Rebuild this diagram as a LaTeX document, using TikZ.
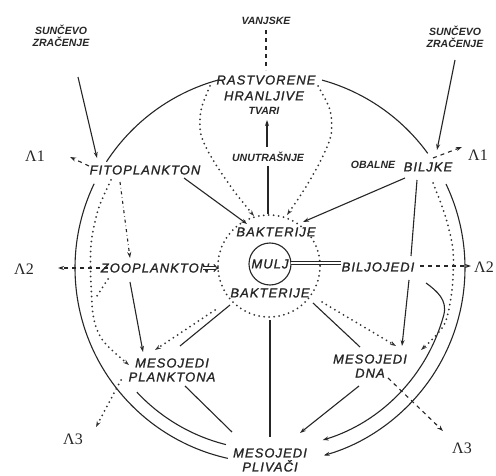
\documentclass[tikz,border=0pt]{standalone}
\usepackage{fontspec}
\setsansfont{Liberation Sans}
\newfontfamily\handfont[LetterSpace=8,FakeBold=1.2]{Liberation Sans}
\newfontfamily\lamfont{Liberation Serif}
\usetikzlibrary{arrows.meta,calc}
\begin{document}
\begin{tikzpicture}[x=1pt,y=-1pt,
  typed/.style={font=\sffamily\bfseries\itshape\fontsize{10.5}{12}\selectfont,inner sep=1pt,align=center,text=black!85},
  hand/.style={font=\handfont\itshape\fontsize{13}{14}\selectfont,inner sep=1pt,align=center,text=black!85},
  lam/.style={font=\lamfont\fontsize{16}{16}\selectfont,inner sep=1pt,text=black!85},
  ln/.style={line width=1.1pt,draw=black!85},
  tip/.style={-{Stealth[length=6pt,width=4pt]}},
  dotl/.style={line width=2pt,draw=black!80,dash pattern=on 0pt off 5pt,line cap=round},
  dsh/.style={ln,dash pattern=on 4pt off 4pt},
  dshdot/.style={ln,dash pattern=on 3pt off 3pt on 0.5pt off 3pt}
]
\useasboundingbox (0,0) rectangle (496,476);
\fill[white] (0,0) rectangle (496,476);

% ---------- labels ----------
\node[typed] (sunL) at (61,36) {SUNČEVO\\ZRAČENJE};
\node[typed] (sunR) at (455,37) {SUNČEVO\\ZRAČENJE};
\node[typed] (vanj) at (266,21) {VANJSKE};
\node[hand] (rast) at (266,80) {RASTVORENE};
\node[hand] (hran) at (264,96) {HRANLJIVE};
\node[typed] (tvari) at (264,111) {TVARI};
\node[typed] (unut) at (268,157) {UNUTRAŠNJE};
\node[hand] (fito) at (145,170) {FITOPLANKTON};
\node[typed] (obal) at (373,165) {OBALNE};
\node[hand] (bilj) at (428,167) {BILJKE};
\node[lam] (l1a) at (35,156) {Λ1};
\node[lam] (l1b) at (478,155) {Λ1};
\node[hand] (baku) at (276,232) {BAKTERIJE};
\node[hand,draw=black!85,circle,line width=1.1pt,minimum size=42pt,inner sep=0pt] (mulj) at (270,264) {MULJ};
\node[hand] (bakd) at (270,293) {BAKTERIJE};
\node[hand] (zoo) at (155,268) {ZOOPLANKTON};
\node[hand] (biljo) at (378,267) {BILJOJEDI};
\node[lam] (l2a) at (24,269) {Λ2};
\node[lam] (l2b) at (484,267) {Λ2};
\node[hand] (mpl) at (172,370) {MESOJEDI\\PLANKTONA};
\node[hand] (mdna) at (370,366) {MESOJEDI\\DNA};
\node[hand] (mpliv) at (270,460) {MESOJEDI\\PLIVAČI};
\node[lam] (l3a) at (73,439) {Λ3};
\node[lam] (l3b) at (462,448) {Λ3};

% ---------- circles ----------
\coordinate (C) at (270,268);
\coordinate (D) at (269,266);
\draw[dotl] (D) circle[radius=51];

% outer ring arcs
\draw[ln] ($(C)+(213:195)$) arc[start angle=213,end angle=254.5,radius=195];
\draw[ln] ($(C)+(285.5:195)$) arc[start angle=285.5,end angle=324,radius=195];
\draw[ln,tip] ($(C)+(334.5:195)$) arc[start angle=334.5,end angle=434,radius=195];
\draw[ln] ($(C)+(205.6:195)$) arc[start angle=205.6,end angle=102.5,radius=195];
% inner arcs
\draw[ln] ($(C)+(137:182)$) arc[start angle=137,end angle=104,radius=182];
\coordinate (bjo1) at (426,283);
\draw[ln,tip] (bjo1) .. controls (437,291) and (447.5,300) .. ($(C)+(15:180)$) arc[start angle=15,end angle=73,radius=180];

% ---------- coordinates ----------
\coordinate (sL1) at (78,77);   \coordinate (sL2) at (97,158);
\coordinate (sR1) at (455,60);  \coordinate (sR2) at (437,150);
\coordinate (v1) at (266,30);   \coordinate (v2) at (266,70);
\coordinate (u1) at (267,147);  \coordinate (u2) at (267,120);
\coordinate (u3) at (268,166);  \coordinate (u4) at (268,214);
\coordinate (f1) at (184,178);  \coordinate (f2) at (247,224);
\coordinate (b1) at (405,178);  \coordinate (b2) at (303,222);
\coordinate (b3) at (417,180);  \coordinate (b4) at (411,256);
\coordinate (fz1) at (120,182); \coordinate (fz2) at (130,258);
\coordinate (zm1) at (130,282); \coordinate (zm2) at (143,352);
\coordinate (la1) at (89,166);  \coordinate (la2) at (70,157);
\coordinate (lb1) at (433,158); \coordinate (lb2) at (462,147);
\coordinate (lc1) at (108,268); \coordinate (lc2) at (58,268);
\coordinate (ld1) at (420,266); \coordinate (ld2) at (471,266);
\coordinate (le1) at (121,380); \coordinate (le2) at (96,427);
\coordinate (lf1) at (388,378); \coordinate (lf2) at (443,431);
\coordinate (bd1) at (313,303); \coordinate (bd2) at (360,347);
\coordinate (bd3) at (322,302); \coordinate (bd4) at (396,346);
\coordinate (bj1) at (409,280); \coordinate (bj2) at (402,346);
\coordinate (md1) at (359,386); \coordinate (md2) at (300,433);
\coordinate (bp1) at (230,305); \coordinate (bp2) at (180,346);
\coordinate (bp3) at (215,310); \coordinate (bp4) at (155,350);
\coordinate (pp1) at (185,386); \coordinate (pp2) at (232,432);
\coordinate (bv1) at (270,320); \coordinate (bv2) at (270,437);
\coordinate (zd1) at (203,268); \coordinate (zd2) at (219,268);
\coordinate (mb1) at (291,263); \coordinate (mb2) at (341,263);
\coordinate (zb1) at (108,279); \coordinate (zb2) at (97,296);

% ---------- connectors ----------
\draw[ln,tip] (sL1) -- (sL2);
\draw[ln,tip] (sR1) -- (sR2);
\draw[dsh] (v1) -- (v2);
\draw[ln,tip] (u1) -- (u2);
\draw[ln] (u3) -- (u4);
\draw[ln,tip] (f1) -- (f2);
\draw[ln,tip] (b1) -- (b2);
\draw[ln] (b3) -- (b4);
\draw[dshdot,tip] (fz1) -- (fz2);
\draw[ln,tip] (zm1) -- (zm2);
\draw[dsh,tip] (la1) -- (la2);
\draw[dsh,tip] (lb1) -- (lb2);
\draw[dsh,tip] (lc1) -- (lc2);
\draw[dsh,tip] (ld1) -- (ld2);
\draw[dotl,tip] (le1) -- (le2);
\draw[dsh,tip] (lf1) -- (lf2);
\draw[ln] (bd1) -- (bd2);
\draw[dotl,tip] (bd3) -- (bd4);
\draw[ln,tip] (bj1) -- (bj2);
\draw[ln,tip] (md1) -- (md2);
\draw[ln] (bp1) -- (bp2);
\draw[dotl,tip] (bp3) -- (bp4);
\draw[ln] (pp1) -- (pp2);
\draw[ln] (bv1) -- (bv2);
\draw[ln,double,double distance=1.5pt,-{Implies}] (zd1) -- (zd2);
\draw[line width=1.2pt,draw=black!85,double,double distance=1.5pt] (mb1) -- (mb2);
\draw[dotl] (zb1) -- (zb2);

% dotted curves
\draw[dotl,tip] plot[smooth] coordinates {(210,86) (201,110) (201,135) (213,160) (234,191) (254,216)};
\draw[dotl,tip] plot[smooth] coordinates {(318,86) (330,110) (331,135) (321,160) (304,190) (287,215)};
\draw[dotl,tip] plot[smooth] coordinates {(111,180) (98,210) (91,245) (91,285) (94,320) (104,342) (129,365)};
\draw[dotl,tip] plot[smooth] coordinates {(433,183) (445,215) (453,250) (452,290) (444,325) (421,350)};
\end{tikzpicture}
\end{document}
